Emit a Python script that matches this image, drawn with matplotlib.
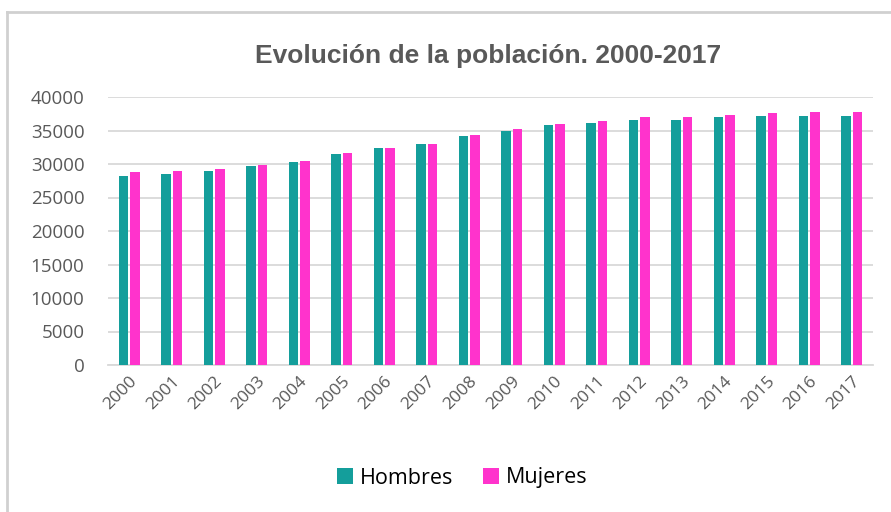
import matplotlib
matplotlib.use('Agg')
import matplotlib.pyplot as plt
import numpy as np

years = [str(y) for y in range(2000, 2018)]
hombres = [28150, 28550, 28950, 29750, 30300, 31500, 32450, 33050, 34200,
           35000, 35750, 36150, 36550, 36550, 36950, 37150, 37150, 37150]
mujeres = [28750, 29000, 29200, 29900, 30500, 31700, 32450, 33050, 34400,
           35150, 36000, 36400, 36950, 36950, 37350, 37550, 37750, 37750]
yticks = [0, 5000, 10000, 15000, 20000, 25000, 30000, 35000, 40000]

teal = '#149E9B'
pink = '#FF33CC'
gray = '#595959'

fig = plt.figure(figsize=(8.91, 5.12), dpi=100)
ax = fig.add_axes([108/891, 1-365/512, 765/891, 268/512])

x = np.arange(len(years))
w = 0.215
ax.bar(x - 0.135, hombres, w, color=teal, label='Hombres', zorder=3)
ax.bar(x + 0.135, mujeres, w, color=pink, label='Mujeres', zorder=3)

ax.set_xlim(-0.5, len(years) - 0.5)
ax.set_ylim(0, 40000)
ax.set_yticks(yticks)
ax.yaxis.grid(True, color='#d9d9d9', linewidth=1.3, zorder=0)
ax.set_axisbelow(True)
for s in ['top', 'right', 'left']:
    ax.spines[s].set_visible(False)
ax.spines['bottom'].set_color('#d9d9d9')
ax.spines['bottom'].set_linewidth(1.3)
ax.tick_params(length=0, colors=gray)
ax.tick_params(axis='y', labelsize=13.5, pad=17)
ax.set_xticks(x)
ax.set_xticklabels(years, rotation=45, ha='right', rotation_mode='anchor',
                   fontsize=12.5)
ax.tick_params(axis='x', pad=6)
for lab in ax.get_xticklabels() + ax.get_yticklabels():
    lab.set_family('Open Sans')

fig.text(488/891, 1-56/512, 'Evolución de la población. 2000-2017',
         ha='center', va='center', fontsize=19, fontweight='bold', color=gray,
         family=['Liberation Sans Narrow', 'Liberation Sans'])

leg = fig.legend(loc='center', bbox_to_anchor=(462/891, 1-478/512), ncol=2,
                 frameon=False, prop={'family': 'Open Sans', 'size': 15.5},
                 handlelength=0.75, handleheight=0.75, handletextpad=0.3,
                 columnspacing=1.4)

# light frame lines of the chart box
fig.add_artist(plt.Line2D([7/891, 1], [1-12/512, 1-12/512], color='#d0d0d0',
                          linewidth=2, transform=fig.transFigure))
fig.add_artist(plt.Line2D([7/891, 7/891], [0, 1-12/512], color='#d0d0d0',
                          linewidth=2, transform=fig.transFigure))

fig.savefig('out.png', dpi=100)
